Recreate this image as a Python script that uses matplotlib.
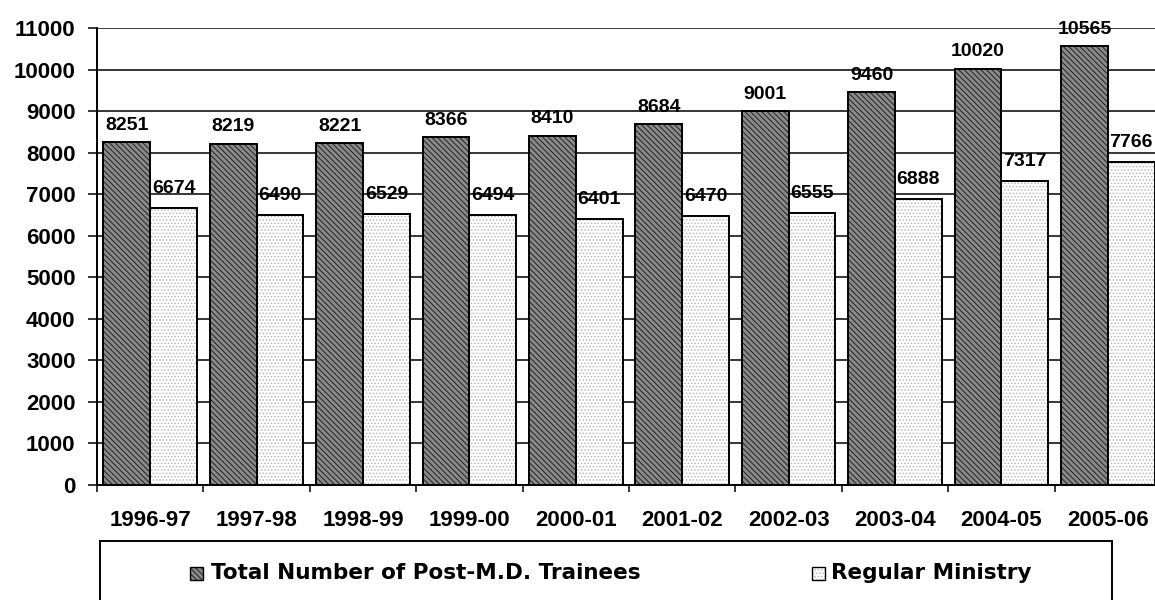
import matplotlib
matplotlib.use("Agg")
import matplotlib.pyplot as plt
from matplotlib.patches import Rectangle
import numpy as np

years = ["1996-97", "1997-98", "1998-99", "1999-00", "2000-01",
         "2001-02", "2002-03", "2003-04", "2004-05", "2005-06"]
total_trainees = [8251, 8219, 8221, 8366, 8410, 8684, 9001, 9460, 10020, 10565]
regular_ministry = [6674, 6490, 6529, 6494, 6401, 6470, 6555, 6888, 7317, 7766]
series_names = ["Total Number of Post-M.D. Trainees", "Regular Ministry"]
y_ticks = list(range(0, 11001, 1000))

plt.rcParams['font.family'] = ['Liberation Sans', 'DejaVu Sans']
plt.rcParams['font.weight'] = 'bold'
plt.rcParams['hatch.linewidth'] = 0.7

W, H = 1155, 600
fig = plt.figure(figsize=(W / 100, H / 100), dpi=100)
ax = fig.add_axes([97 / W, 1 - 485 / H, (1161 - 97) / W, (485 - 28) / H])

x = np.arange(len(years))
bw = 0.44
dark_face, dark_hatch = '#8a8a8a', '#202020'
light_face, light_hatch = 'white', '#b8b8b8'

ax.set_axisbelow(True)
ax.yaxis.grid(True, color='black', linewidth=1.1)

ax.bar(x - bw / 2, total_trainees, bw, color=dark_face, edgecolor=dark_hatch,
       hatch='\\\\\\\\\\\\', linewidth=0, zorder=2)
ax.bar(x - bw / 2, total_trainees, bw, fill=False, edgecolor='black', linewidth=1.4, zorder=3)
ax.bar(x + bw / 2, regular_ministry, bw, color=light_face, edgecolor=light_hatch,
       hatch='.....', linewidth=0, zorder=2)
ax.bar(x + bw / 2, regular_ministry, bw, fill=False, edgecolor='black', linewidth=1.4, zorder=3)

for xi, v in zip(x - bw / 2, total_trainees):
    ax.annotate(str(v), (xi, v), xytext=(0, 6), textcoords='offset points',
                ha='center', va='bottom', fontsize=14, fontweight='bold')
for xi, v in zip(x + bw / 2, regular_ministry):
    ax.annotate(str(v), (xi, v), xytext=(0, 8), textcoords='offset points',
                ha='center', va='bottom', fontsize=14, fontweight='bold')

ax.set_xlim(-0.5, len(years) - 0.5)
ax.set_ylim(0, 11000)
ax.set_yticks(y_ticks)
ax.set_yticklabels([str(t) for t in y_ticks], fontsize=16, fontweight='bold')
ax.tick_params(axis='y', length=6.5, width=1.1, pad=9, direction='out')

ax.set_xticks(np.arange(-0.5, len(years), 1.0))
ax.set_xticklabels([])
ax.set_xticks(x, minor=True)
ax.set_xticklabels(years, minor=True, fontsize=16, fontweight='bold')
ax.tick_params(axis='x', which='major', length=5, width=1.1, direction='out')
ax.tick_params(axis='x', which='minor', length=0, pad=18)

for s in ['top', 'right']:
    ax.spines[s].set_visible(False)
for s in ['left', 'bottom']:
    ax.spines[s].set_linewidth(1.4)

# Legend box
fig.patches.append(Rectangle((100 / W, -0.05), (1112 - 100) / W, 0.05 + 1 - 541 / H,
                             transform=fig.transFigure, fill=False, edgecolor='black',
                             linewidth=1.4))
ly = 1 - 573 / H
sq = 13
fig.patches.append(Rectangle((190 / W, ly - sq / 2 / H), sq / W, sq / H, transform=fig.transFigure,
                             facecolor=dark_face, edgecolor=dark_hatch, hatch='\\\\\\\\\\\\',
                             linewidth=0))
fig.patches.append(Rectangle((190 / W, ly - sq / 2 / H), sq / W, sq / H, transform=fig.transFigure,
                             fill=False, edgecolor='black', linewidth=1.0))
fig.patches.append(Rectangle((812 / W, ly - sq / 2 / H), sq / W, sq / H, transform=fig.transFigure,
                             facecolor=light_face, edgecolor=light_hatch, hatch='.....',
                             linewidth=0))
fig.patches.append(Rectangle((812 / W, ly - sq / 2 / H), sq / W, sq / H, transform=fig.transFigure,
                             fill=False, edgecolor='black', linewidth=1.0))
fig.text(211 / W, ly, series_names[0], ha='left', va='center', fontsize=15.5,
         fontweight='bold', family=['DejaVu Sans'])
fig.text(831 / W, ly, series_names[1], ha='left', va='center', fontsize=15.5,
         fontweight='bold', family=['DejaVu Sans'])

fig.savefig('out.png', dpi=100)
